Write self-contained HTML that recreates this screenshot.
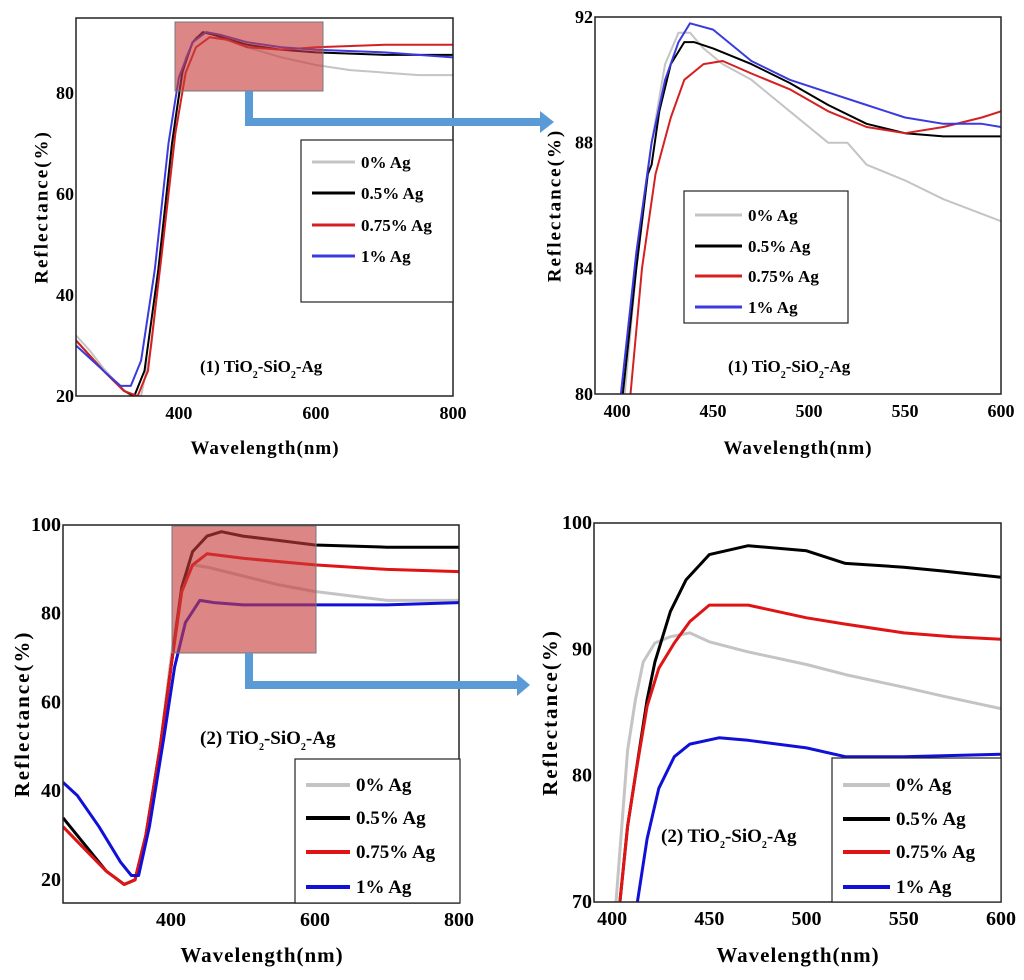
<!DOCTYPE html>
<html><head><meta charset="utf-8"><style>
body{margin:0;background:#fff;}
svg{display:block;font-family:"Liberation Serif",serif;font-weight:bold;}
</style></head><body>
<svg id="fig" width="1024" height="980" viewBox="0 0 1024 980" xmlns="http://www.w3.org/2000/svg"></svg>
<script>
// ---------- data (wavelength nm, reflectance %) ----------
const seriesNames = ["0% Ag","0.5% Ag","0.75% Ag","1% Ag"];
const p1_ag0  = [[250,32],[270,29],[290,25.5],[310,22.5],[330,20],[345,20],[360,30],[380,55],[395,75],[410,87],[425,91],[440,92],[460,91],[500,89],[550,87],[600,85.5],[650,84.5],[700,84],[750,83.5],[800,83.5]];
const p1_ag05 = [[250,31],[290,25],[320,21],[335,20],[350,25],[370,45],[390,70],[405,84],[420,90],[435,92],[450,91.5],[500,89.5],[550,88.5],[600,88],[700,87.5],[800,87.5]];
const p1_ag075= [[250,31],[290,25],[320,21],[340,20],[355,25],[375,48],[395,72],[410,84],[425,89],[445,91],[470,90.5],[500,89],[550,88.5],[600,89],[700,89.5],[800,89.5]];
const p1_ag1  = [[250,30],[290,25],[315,22],[330,22],[345,27],[365,45],[385,70],[400,83],[420,90],[440,92],[460,91.5],[500,90],[550,89],[600,88.5],[700,88],[800,87]];

const p2_ag0  = [[404,80],[410,84],[418,88],[425,90.5],[432,91.5],[438,91.5],[445,91],[455,90.5],[470,90],[490,89],[510,88],[520,88],[530,87.3],[550,86.8],[570,86.2],[600,85.5]];
const p2_ag05 = [[403,80],[410,84],[416,87],[418,87.3],[422,89],[428,90.5],[435,91.2],[440,91.2],[450,91],[470,90.5],[490,89.9],[510,89.2],[530,88.6],[550,88.3],[570,88.2],[600,88.2]];
const p2_ag075= [[407,80],[413,84],[420,87],[428,88.8],[435,90],[445,90.5],[455,90.6],[470,90.2],[490,89.7],[510,89],[530,88.5],[550,88.3],[570,88.5],[590,88.8],[600,89]];
const p2_ag1  = [[402,80],[410,84.5],[418,88],[425,90],[432,91.2],[438,91.8],[450,91.6],[470,90.6],[490,90],[510,89.6],[530,89.2],[550,88.8],[570,88.6],[590,88.6],[600,88.5]];

const p3_ag0  = [[250,32],[280,27],[310,22],[335,19],[350,20],[365,30],[385,50],[400,70],[415,86],[430,91],[450,90.5],[500,88.5],[550,86.5],[600,85],[700,83],[800,83]];
const p3_ag05 = [[250,34],[280,28],[310,22],[335,19],[350,20],[365,30],[385,50],[400,68],[415,86],[430,94],[450,97.5],[470,98.5],[500,97.5],[550,96.5],[600,95.5],[700,95],[800,95]];
const p3_ag075= [[250,32],[280,27],[310,22],[335,19],[350,20],[365,30],[385,50],[400,68],[415,85],[430,91],[450,93.5],[500,92.5],[600,91],[700,90],[800,89.5]];
const p3_ag1  = [[250,42],[270,39],[300,32],[330,24],[345,21],[355,21],[370,32],[390,52],[405,68],[420,78],[440,83],[460,82.5],[500,82],[600,82],[700,82],[800,82.5]];

const p4_ag0  = [[402,70],[405,76],[408,82],[412,86],[416,89],[422,90.5],[430,91],[440,91.3],[450,90.6],[470,89.8],[500,88.8],[520,88],[550,87],[570,86.3],[600,85.3]];
const p4_ag05 = [[404,70],[408,76],[412,80],[418,86],[422,89],[430,93],[438,95.5],[450,97.5],[470,98.2],[500,97.8],[520,96.8],[550,96.5],[570,96.2],[600,95.7]];
const p4_ag075= [[404,70],[408,76],[412,80],[418,85.5],[424,88.5],[432,90.5],[440,92.2],[450,93.5],[470,93.5],[500,92.5],[520,92],[550,91.3],[575,91],[600,90.8]];
const p4_ag1  = [[413,70],[418,75],[424,79],[432,81.5],[440,82.5],[455,83],[470,82.8],[500,82.2],[520,81.5],[550,81.5],[600,81.7]];

const xTicksWide = [400,600,800];
const xTicksZoom = [400,450,500,550,600];
const yTicks1 = [20,40,60,80];
const yTicks2 = [80,84,88,92];
const yTicks3 = [20,40,60,80,100];
const yTicks4 = [70,80,90,100];

const NS="http://www.w3.org/2000/svg";
const svg=document.getElementById('fig');
function mk(tag,attrs,parent){const e=document.createElementNS(NS,tag);for(const k in attrs)e.setAttribute(k,attrs[k]);(parent||svg).appendChild(e);return e;}

const panels=[
 {id:1,box:[76,18,453,396],x:[250,800],y:[20,94.8],xt:xTicksWide,yt:yTicks1,data:[p1_ag0,p1_ag05,p1_ag075,p1_ag1],
  colors:["#c4c4c4","#000","#d42020","#3a3ae0"],lw:2,fs:17,ts:19,leg:[301,140,453,302],legY:[162,193,225,256],legLine:[312,355],
  ann:[200,372],ylab:43,xlab:[265,454]},
 {id:2,box:[595,17,1001,394],x:[388.5,600],y:[80,92],xt:xTicksZoom,yt:yTicks2,data:[p2_ag0,p2_ag05,p2_ag075,p2_ag1],
  colors:["#c4c4c4","#000","#d42020","#3a3ae0"],lw:2,fs:17,ts:19,leg:[684,191,848,323],legY:[215,246,276,307],legLine:[695,742],
  ann:[728,372],ylab:556,xlab:[798,454]},
 {id:3,box:[63,525,459,903],x:[250,800],y:[14.8,100],xt:xTicksWide,yt:yTicks3,data:[p3_ag0,p3_ag05,p3_ag075,p3_ag1],
  colors:["#c4c4c4","#000","#e01414","#1010d8"],lw:3,fs:19,ts:21,leg:[295,759,460,903],legY:[785,818,852,887],legLine:[306,350],
  ann:[200,744],ylab:24,xlab:[262,962]},
 {id:4,box:[594,523,1001,902],x:[390.7,600],y:[70,100],xt:xTicksZoom,yt:yTicks4,data:[p4_ag0,p4_ag05,p4_ag075,p4_ag1],
  colors:["#c4c4c4","#000","#e01414","#1010d8"],lw:3,fs:19,ts:21,leg:[832,758,1001,902],legY:[785,819,852,887],legLine:[843,890],
  ann:[661,842],ylab:552,xlab:[798,962]}
];

panels.forEach(p=>{
  const [L,T,R,B]=p.box;
  const sx=w=>L+(w-p.x[0])/(p.x[1]-p.x[0])*(R-L);
  const sy=v=>B-(v-p.y[0])/(p.y[1]-p.y[0])*(B-T);
  const g=mk('g',{});
  
  
  const cp=mk('clipPath',{id:'clip'+p.id},g);
  mk('rect',{x:L,y:T,width:R-L,height:B-T},cp);
  const sg=mk('g',{'clip-path':'url(#clip'+p.id+')'},g);
  p.data.forEach((s,i)=>{
    const pl=mk('polyline',{points:s.map(d=>sx(d[0]).toFixed(1)+','+sy(d[1]).toFixed(1)).join(' '),fill:'none',stroke:p.colors[i],'stroke-width':p.lw,'stroke-linejoin':'round'},sg);
    
    
  });
  const fr=mk('rect',{x:L,y:T,width:R-L,height:B-T,fill:'none',stroke:'#222','stroke-width':1.5},g);
  
  
  p.xt.forEach(t=>{
    const tx=mk('text',{x:sx(t),y:B+23,'text-anchor':'middle','font-size':p.fs+1},g);
    tx.textContent=t;
    
    
  });
  p.yt.forEach(t=>{
    const ty=mk('text',{x:L-2,y:sy(t)+6,'text-anchor':'end','font-size':p.fs+1},g);
    ty.textContent=t;
    
    
  });
  const xl=mk('text',{x:p.xlab[0],y:p.xlab[1],'text-anchor':'middle','font-size':p.ts,'letter-spacing':1},g);
  xl.textContent='Wavelength(nm)';
  
  
  const yc=(T+B)/2;
  const yl=mk('text',{x:p.ylab,y:yc,'text-anchor':'middle','font-size':p.ts,'letter-spacing':2,transform:'rotate(-90 '+p.ylab+' '+yc+')','dominant-baseline':'middle'},g);
  yl.textContent='Reflectance(%)';
  
  
  const an=mk('text',{x:p.ann[0],y:p.ann[1],'font-size':p.fs},g);
  an.innerHTML='('+(p.id<3?1:2)+') TiO<tspan dy="6" font-size="10">2</tspan><tspan dy="-6">-SiO</tspan><tspan dy="6" font-size="10">2</tspan><tspan dy="-6">-Ag</tspan>';
  
  
  const [lx1,ly1,lx2,ly2]=p.leg;
  const lg=mk('g',{},g);
  
  
  mk('rect',{x:lx1,y:ly1,width:lx2-lx1,height:ly2-ly1,fill:'#fff',stroke:'#222','stroke-width':1.2},lg);
  seriesNames.forEach((n,i)=>{
    const e=mk('g',{},lg);
    
    
    mk('line',{x1:p.legLine[0],x2:p.legLine[1],y1:p.legY[i],y2:p.legY[i],stroke:p.colors[i],'stroke-width':p.lw+1},e);
    const t=mk('text',{x:p.legLine[1]+6,y:p.legY[i]+6,'font-size':p.fs},e);
    t.textContent=n;
  });
});

function hl(x,y,w,h,name){
  const r=mk('rect',{x:x,y:y,width:w,height:h,fill:'#c83c3c','fill-opacity':0.62,stroke:'#777','stroke-width':1});
  
  
}
hl(175,22,148,69,'zoom-region-1');
hl(172,526,144,127,'zoom-region-2');
function arrow(x0,y0,y1,x1,tip,name){
  const g=mk('g',{});
  
  
  mk('path',{d:`M${x0} ${y0} V${y1} H${x1}`,fill:'none',stroke:'#5b9bd5','stroke-width':8},g);
  mk('polygon',{points:`${x1},${y1-11} ${tip},${y1} ${x1},${y1+11}`,fill:'#5b9bd5'},g);
}
arrow(249,91,122,540,554,'zoom-arrow-1');
arrow(249,653,685,517,530,'zoom-arrow-2');
</script>
</body></html>
